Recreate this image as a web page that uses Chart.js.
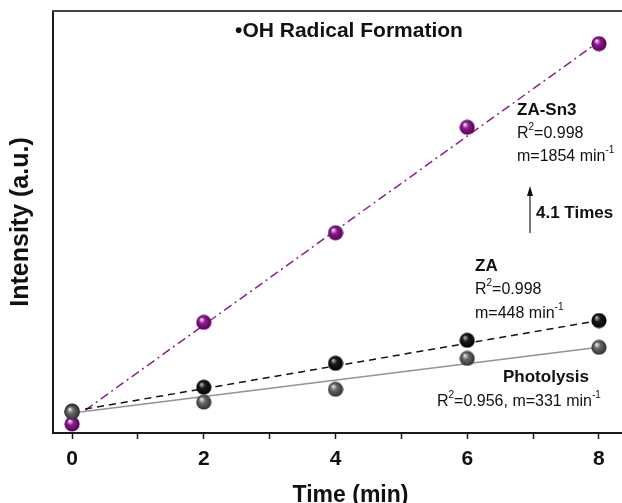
<!DOCTYPE html>
<html>
<head>
<meta charset="utf-8">
<script src="https://cdn.jsdelivr.net/npm/chart.js@4.4.1/dist/chart.umd.min.js"></script>
<style>
  html, body { margin: 0; padding: 0; background: #fff; overflow: hidden; }
  /* the original figure's right frame lies just outside the picture, so the canvas is wider and cropped */
  #wrap { width: 622px; height: 503px; overflow: hidden; }
</style>
</head>
<body>
<div id="wrap"><canvas id="chart" width="657" height="503"></canvas></div>
<script>
// --- data (intensity in arbitrary units) ---
const timeMin = [0, 2, 4, 6, 8];
const zaSn3 = [350, 4300, 7780, 11880, 15130];
const za = [850, 1780, 2710, 3600, 4370];
const photolysis = [810, 1200, 1700, 2900, 3330];

// linear-fit lines, end points
const fitTime = [0.2, 8];
const zaSn3Fit = [890, 15210];
const zaFit = [930, 4370];
const photoFitTime = [0, 8];
const photolysisFit = [775, 3330];

const xTicks = [0, 1, 2, 3, 4, 5, 6, 7, 8];

const FONT = 'Arial, "Liberation Sans", Helvetica, sans-serif';

// shaded sphere marker
function sphere(light, mid, dark) {
    const c = document.createElement('canvas');
    c.width = 16; c.height = 16;
    const g = c.getContext('2d');
    const grad = g.createRadialGradient(5.5, 5, 0.5, 8, 8, 8);
    grad.addColorStop(0, light);
    grad.addColorStop(0.35, mid);
    grad.addColorStop(1, dark);
    g.fillStyle = grad;
    g.beginPath();
    g.arc(8, 8, 7.6, 0, Math.PI * 2);
    g.fill();
    return c;
}

const purpleBall = sphere('#f4dcf4', '#931a93', '#4e004e');
const blackBall = sphere('#b0b0b0', '#1a1a1a', '#000000');
const grayBall = sphere('#e6e6e6', '#6a6a6a', '#2c2c2c');

const pts = (xs, ys) => xs.map((x, i) => ({ x: x, y: ys[i] }));

// text with superscripts: parts = [[text, isSup], ...]
function supText(ctx, parts, x, y, size) {
    let cx = x;
    parts.forEach(([t, sup]) => {
        if (sup) {
            ctx.font = `${Math.round(size * 0.6)}px ${FONT}`;
            ctx.fillText(t, cx, y - size * 0.42);
        } else {
            ctx.font = `${size}px ${FONT}`;
            ctx.fillText(t, cx, y);
        }
        cx += ctx.measureText(t).width;
    });
}

const annotations = {
    id: 'annotations',
    afterDraw(chart) {
        const ctx = chart.ctx;
        const area = chart.chartArea;
        ctx.save();

        // top and right frame lines
        ctx.strokeStyle = '#444';
        ctx.lineWidth = 2;
        ctx.beginPath();
        ctx.moveTo(area.left - 1, area.top);
        ctx.lineTo(area.right, area.top);
        ctx.lineTo(area.right, area.bottom);
        ctx.stroke();

        ctx.fillStyle = '#111';
        ctx.textBaseline = 'middle';

        ctx.textAlign = 'center';
        ctx.font = `bold 21px ${FONT}`;
        ctx.fillText('\u2022OH Radical Formation', 349, 31);

        ctx.textAlign = 'left';
        ctx.font = `bold 17px ${FONT}`;
        ctx.fillText('ZA-Sn3', 517, 110);
        supText(ctx, [['R', false], ['2', true], ['=0.998', false]], 517, 134, 16);
        supText(ctx, [['m=1854 min', false], ['-1', true]], 517, 157, 16);

        ctx.font = `bold 17px ${FONT}`;
        ctx.fillText('4.1 Times', 536, 213);

        // arrow
        ctx.strokeStyle = '#222';
        ctx.lineWidth = 1.2;
        ctx.beginPath();
        ctx.moveTo(530, 233);
        ctx.lineTo(530, 194);
        ctx.stroke();
        ctx.beginPath();
        ctx.moveTo(530, 186);
        ctx.lineTo(527, 196);
        ctx.lineTo(533, 196);
        ctx.closePath();
        ctx.fill();

        ctx.font = `bold 17px ${FONT}`;
        ctx.fillText('ZA', 475, 266);
        supText(ctx, [['R', false], ['2', true], ['=0.998', false]], 475, 290, 16);
        supText(ctx, [['m=448 min', false], ['-1', true]], 475, 314, 16);

        ctx.font = `bold 17px ${FONT}`;
        ctx.fillText('Photolysis', 503, 377);
        supText(ctx, [['R', false], ['2', true], ['=0.956, m=331 min', false], ['-1', true]], 437, 402, 16);

        ctx.restore();
    }
};

const ctx = document.getElementById('chart').getContext('2d');
new Chart(ctx, {
    type: 'scatter',
    data: {
        datasets: [
            {
                label: 'Photolysis',
                data: pts(timeMin, photolysis),
                pointStyle: grayBall,
                pointRadius: 8,
                order: 0
            },
            {
                label: 'ZA',
                data: pts(timeMin, za),
                pointStyle: blackBall,
                pointRadius: 8,
                order: 1
            },
            {
                label: 'ZA-Sn3',
                data: pts(timeMin, zaSn3),
                pointStyle: purpleBall,
                pointRadius: 8,
                order: 2
            },
            {
                label: 'Photolysis fit',
                data: pts(photoFitTime, photolysisFit),
                showLine: true,
                borderColor: '#939393',
                borderWidth: 1.6,
                pointRadius: 0,
                order: 3
            },
            {
                label: 'ZA fit',
                data: pts(fitTime, zaFit),
                showLine: true,
                borderColor: '#111',
                borderWidth: 1.5,
                borderDash: [7, 5],
                pointRadius: 0,
                order: 4
            },
            {
                label: 'ZA-Sn3 fit',
                data: pts(fitTime, zaSn3Fit),
                showLine: true,
                borderColor: '#8e1f8e',
                borderWidth: 1.5,
                borderDash: [9, 4, 2, 4],
                pointRadius: 0,
                order: 5
            }
        ]
    },
    options: {
        responsive: false,
        animation: false,
        layout: { padding: { top: 11, right: 3, left: 0, bottom: 0 } },
        plugins: {
            legend: { display: false },
            tooltip: { enabled: false }
        },
        scales: {
            x: {
                type: 'linear',
                min: -0.29,
                max: 8.745,
                afterBuildTicks: (axis) => { axis.ticks = xTicks.map(v => ({ value: v })); },
                afterFit: (axis) => { axis.height = 70; axis.paddingRight = 0; axis.paddingLeft = 0; },
                border: { display: true, color: '#1a1a1a', width: 2 },
                grid: { display: true, drawOnChartArea: false, drawTicks: true, tickLength: 6, tickColor: '#1a1a1a', tickWidth: 1.5 },
                ticks: {
                    autoSkip: false,
                    maxRotation: 0,
                    padding: 8,
                    color: '#111',
                    font: { family: FONT, size: 21, weight: 'bold' },
                    callback: (v) => (v % 2 === 0 ? String(v) : '')
                },
                title: {
                    display: true,
                    text: 'Time (min)',
                    color: '#111',
                    font: { family: FONT, size: 23, weight: 'bold', lineHeight: 1 },
                    padding: { top: 0, bottom: -4 }
                }
            },
            y: {
                type: 'linear',
                min: 0,
                max: 16400,
                afterFit: (axis) => { axis.width = 53; },
                border: { display: true, color: '#1a1a1a', width: 2 },
                grid: { display: false },
                ticks: { display: false },
                title: {
                    display: true,
                    text: 'Intensity (a.u.)',
                    color: '#111',
                    font: { family: FONT, size: 25, weight: 'bold', lineHeight: 1 },
                    padding: { top: 9, bottom: 0 }
                }
            }
        }
    },
    plugins: [annotations]
});
</script>
</body>
</html>
